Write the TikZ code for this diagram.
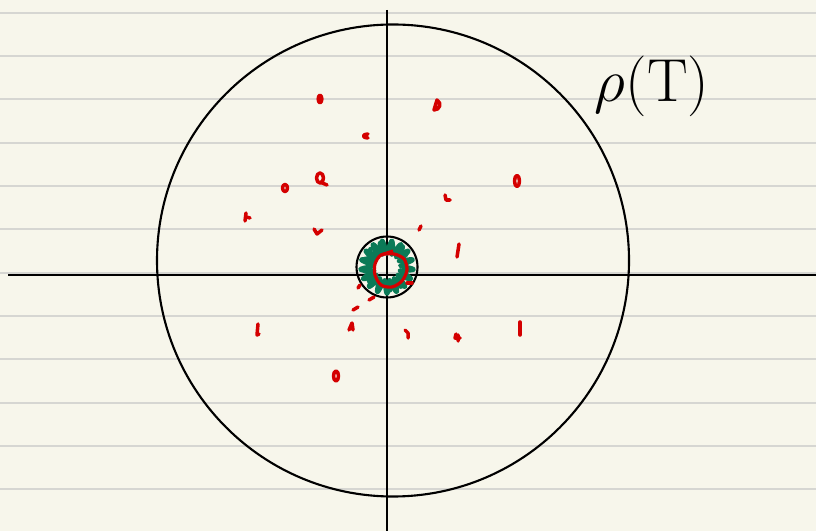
\documentclass[tikz,border=0pt]{standalone}
\usepackage{tikz}
\definecolor{paper}{HTML}{F7F6EB}
\definecolor{rule}{HTML}{D6D6D2}
\definecolor{inkred}{HTML}{D40000}
\definecolor{inkgreen}{HTML}{0B7A57}
\begin{document}
\begin{tikzpicture}[x=0.01cm,y=-0.01cm,
  axis/.style={black,line width=0.6pt},
  ring/.style={black,line width=0.6pt},
  redmark/.style={inkred,line width=1.0pt,line cap=round,line join=round},
  ruled/.style={rule,line width=0.5pt}]
\fill[paper] (0,0) rectangle (816,531);
\useasboundingbox (0,0) rectangle (816,531);
% ruled lines
\foreach \y in {12.7,56,99.3,142.7,186,229.3,272.7,316,359.3,402.7,446,489.3}
  \draw[ruled] (0,\y) -- (816,\y);
% axes
\coordinate (xl) at (8,275);
\coordinate (xr) at (816,275);
\coordinate (yt) at (387,10);
\coordinate (yb) at (387,531);
\draw[axis] (xl) -- (xr);
\draw[axis] (yt) -- (yb);
% big circle
\coordinate (O) at (393,260.5);
\draw[ring] (O) circle [radius=236];
% green scribble
\coordinate (c) at (387,267);
\draw[inkgreen,line width=1.1pt,line join=round]
  plot[domain=0:360,samples=300] ({387+(20+7*sin(17*\x))*cos(\x)},{267+(20+7*sin(17*\x))*sin(\x)});
\draw[inkgreen,line width=0.9pt,line join=round]
  plot[domain=20:330,samples=250] ({388+(20+5*sin(13*\x+60))*cos(\x)},{266+(20+5*sin(13*\x+60))*sin(\x)});
% small circle
\draw[ring] (c) circle [radius=30.5];
% red inner loop
\draw[inkred,line width=0.9pt,line join=round]
  plot[smooth cycle] coordinates {(375,264) (381,255) (394,254) (404,259) (407,270) (402,281) (392,287) (381,285) (375,275)};
\draw[inkred,line width=0.9pt] (381,255) -- (393,251);
% red marks
\draw[redmark] (320,99) ellipse [x radius=1.8, y radius=3.8];
\draw[redmark] (434,110) -- (437,100) .. controls (442,103) and (440,110) .. (434,110);
\draw[redmark] (368,134) .. controls (362,134) and (362,138) .. (368,138);
\draw[redmark] (320,178) ellipse [x radius=3.5, y radius=5];
\draw[redmark] (320,182) -- (327,185);
\draw[redmark] (285,188) ellipse [x radius=2.5, y radius=3.5];
\draw[redmark] (246,213) -- (245,221) (246,217) -- (250,218);
\draw[redmark] (314,229) -- (317,234) -- (322,230);
\draw[redmark] (445,195) -- (446,200) -- (450,200);
\draw[redmark] (517,181) ellipse [x radius=2.5, y radius=5.5];
\draw[redmark] (421,226) -- (419,230);
\draw[redmark] (459,244) -- (457,257);
\draw[redmark] (258,324) -- (257,335) -- (259,334);
\draw[redmark] (349,330) -- (352,323) -- (353,330);
\draw[redmark] (336,376) ellipse [x radius=2.5, y radius=5];
\draw[redmark] (405,330) -- (408,333) -- (408,338);
\draw[redmark] (456,334) -- (455,338) -- (460,338) (458,335) -- (458,341);
\draw[redmark] (520,322) -- (520,335);
\draw[redmark] (353,310) -- (358,307);
\draw[redmark] (369,300) -- (374,297);
\draw[redmark] (358,288) -- (360,285);
\draw[redmark] (407,283) -- (412,283);
% label
\node[font=\fontsize{16}{18}\selectfont,inner sep=0pt] (lbl) at (652,86) {$\rho(\mathrm{T})$};
\end{tikzpicture}
\end{document}
